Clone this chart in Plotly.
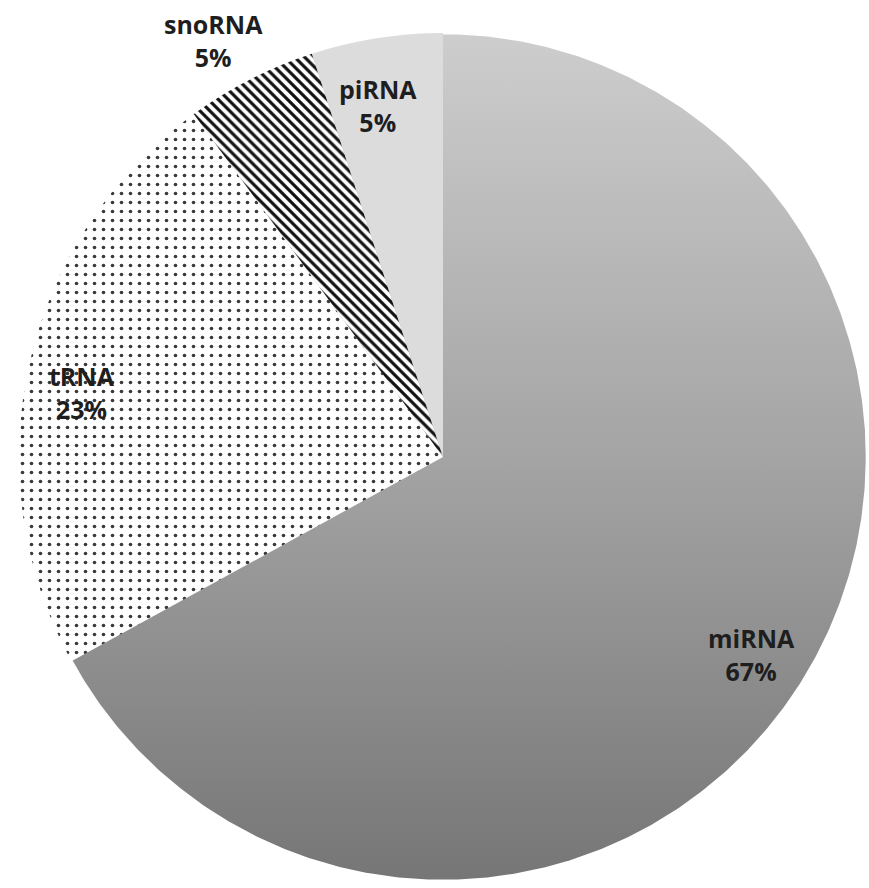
import numpy as np
import plotly.graph_objects as go

labels = ["miRNA", "tRNA", "snoRNA", "piRNA"]
values = [67, 23, 5, 5]
label_radius = [0.864, 0.865, 1.122, 0.844]
label_angle_offset = [2.1, -2.4, -1.8, -1.5]

W, H = 869, 888
cx, cy, r = 443, 457, 424
xdom = [(cx - r) / W, (cx + r) / W]
ydom = [(H - (cy + r)) / H, (H - (cy - r)) / H]

fig = go.Figure()

# gradient disc underneath (shows through the transparent miRNA slice)
t = np.linspace(0, 2 * np.pi, 721)
fig.add_trace(go.Scatter(
    x=0.997 * np.cos(t), y=0.997 * np.sin(t), mode="lines", fill="toself",
    line=dict(width=0, color="rgba(0,0,0,0)"),
    fillgradient=dict(type="vertical",
                      colorscale=[[0, "#767676"], [0.5, "#a4a4a4"], [1, "#cdcdcd"]]),
    hoverinfo="skip", showlegend=False,
))

fig.add_trace(go.Pie(
    labels=labels, values=values, sort=False, direction="clockwise", rotation=0,
    domain=dict(x=xdom, y=ydom), textinfo="none", hoverinfo="label+percent",
    marker=dict(
        colors=["rgba(0,0,0,0)", "white", "white", "#dcdcdc"],
        line=dict(width=0),
        pattern=dict(
            shape=["", ".", "\\", ""],
            fgcolor=["#000", "#3a3a3a", "#111", "#000"],
            bgcolor=["rgba(0,0,0,0)", "white", "white", "#dcdcdc"],
            size=[8, 9, 7, 8],
            solidity=[0.2, 0.13, 0.45, 0.2],
        ),
    ),
    showlegend=False,
))

total = sum(values)
cum = 0
for lab, v, rf, off in zip(labels, values, label_radius, label_angle_offset):
    mid = (cum + v / 2) / total * 2 * np.pi + np.radians(off)
    cum += v
    px = cx + rf * r * np.sin(mid)
    py = cy - rf * r * np.cos(mid)
    fig.add_annotation(
        x=px / W, y=1 - py / H, xref="paper", yref="paper",
        xanchor="center", yanchor="middle",
        text=f"<b>{lab}<br>{round(v / total * 100)}%</b>", showarrow=False,
        font=dict(family="Open Sans, Lato, sans-serif", size=25, color="#1e1e1e"),
        align="center",
    )

fig.update_layout(
    width=W, height=H, margin=dict(l=0, r=0, t=0, b=0),
    paper_bgcolor="white", plot_bgcolor="rgba(0,0,0,0)",
    xaxis=dict(domain=xdom, range=[-1, 1], visible=False, fixedrange=True),
    yaxis=dict(domain=ydom, range=[-1, 1], visible=False, fixedrange=True),
    showlegend=False,
)

fig.write_html("out.html")
